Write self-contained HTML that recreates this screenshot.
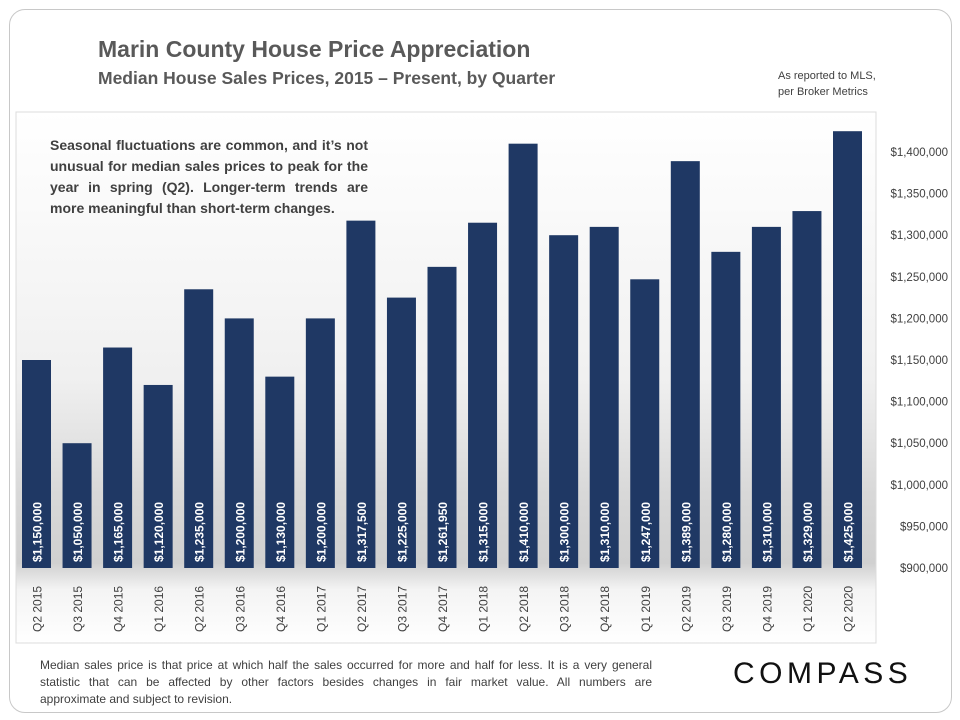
<!DOCTYPE html>
<html><head><meta charset="utf-8"><style>
body{margin:0;width:960px;height:720px;background:#fff;font-family:"Liberation Sans",sans-serif;overflow:hidden;position:relative}
.abs{position:absolute}
.fl{text-align:justify;text-align-last:justify;white-space:nowrap}
</style></head><body>
<div class="abs" style="left:9px;top:9px;width:941px;height:702px;border:1px solid #c8c8c8;border-radius:16px"></div>
<div class="abs" style="left:98px;top:36px;font-size:23px;font-weight:bold;color:#595959">Marin County House Price Appreciation</div>
<div class="abs" style="left:98px;top:68px;font-size:17.5px;font-weight:bold;color:#595959">Median House Sales Prices, 2015 – Present, by Quarter</div>
<div class="abs" style="left:778px;top:68px;font-size:11px;color:#404040;line-height:16px">As reported to MLS,<br>per Broker Metrics</div>
<svg class="abs" style="left:0;top:0" width="960" height="720">
<defs>
<linearGradient id="bg" x1="0" y1="0" x2="0" y2="1">
<stop offset="0" stop-color="#ffffff"/><stop offset="0.5" stop-color="#f0f0f0"/><stop offset="0.72" stop-color="#d8d8d8"/><stop offset="0.85" stop-color="#d0d0d0"/><stop offset="0.9" stop-color="#f4f4f4"/><stop offset="1" stop-color="#ffffff"/>
</linearGradient>
</defs>
<rect x="16" y="112" width="860" height="531" fill="url(#bg)" stroke="#dcdcdc"/>
<g id="bars"></g><g id="yt"></g><g id="xt"></g>
</svg>
<div class="abs" style="left:50px;top:135px;width:318px;font-size:14px;font-weight:bold;color:#404040;line-height:21px;text-align:justify">Seasonal fluctuations are common, and it’s not unusual for median sales prices to peak for the year in spring (Q2). Longer-term trends are more meaningful than short-term changes.</div>
<div class="abs" style="left:40px;top:657px;width:612px;font-size:12px;color:#404040;line-height:17px">
<div class="fl">Median sales price is that price at which half the sales occurred for more and half for less. It is a very general</div>
<div class="fl">statistic that can be affected by other factors besides changes in fair market value. All numbers are</div>
<div>approximate and subject to revision.</div>
</div>
<div class="abs" style="left:733px;top:657px;font-size:30px;letter-spacing:4.5px;color:#111">COMPASS</div>
<script>
const categories=["Q2 2015","Q3 2015","Q4 2015","Q1 2016","Q2 2016","Q3 2016","Q4 2016","Q1 2017","Q2 2017","Q3 2017","Q4 2017","Q1 2018","Q2 2018","Q3 2018","Q4 2018","Q1 2019","Q2 2019","Q3 2019","Q4 2019","Q1 2020","Q2 2020"];
const values=[1150000,1050000,1165000,1120000,1235000,1200000,1130000,1200000,1317500,1225000,1261950,1315000,1410000,1300000,1310000,1247000,1389000,1280000,1310000,1329000,1425000];
const yTicks=[900000,950000,1000000,1050000,1100000,1150000,1200000,1250000,1300000,1350000,1400000];
const NS="http://www.w3.org/2000/svg";
const y=v=>568-(v-900000)*416/500000;
const x=i=>22+i*(833-22)/(categories.length-1);
const fmt=v=>"$"+v.toLocaleString("en-US");
function mk(t,a,p,txt){const e=document.createElementNS(NS,t);for(const k in a)e.setAttribute(k,a[k]);if(txt!=null)e.textContent=txt;p.appendChild(e);return e;}
const bars=document.getElementById('bars'),yt=document.getElementById('yt'),xt=document.getElementById('xt');
values.forEach((v,i)=>{
 const r=mk('rect',{x:x(i),y:y(v),width:29,height:568-y(v),fill:'#1f3864'},bars);
 
 
 const cx=x(i)+14.5;
 const l=mk('text',{x:0,y:0,transform:`translate(${cx+5},562) rotate(-90)`,fill:'#fff','font-size':12,'font-weight':'bold','font-family':'Liberation Sans, sans-serif'},bars,fmt(v));
 
 
 const c=mk('text',{x:0,y:0,transform:`translate(${cx+5},632) rotate(-90)`,fill:'#404040','font-size':12,'font-family':'Liberation Sans, sans-serif'},xt,categories[i]);
 
 
});
yTicks.forEach(t=>{
 const e=mk('text',{x:948,y:y(t)+4,'text-anchor':'end',fill:'#404040','font-size':11.5,'font-family':'Liberation Sans, sans-serif'},yt,fmt(t));
 
 
});
</script>
</body></html>
